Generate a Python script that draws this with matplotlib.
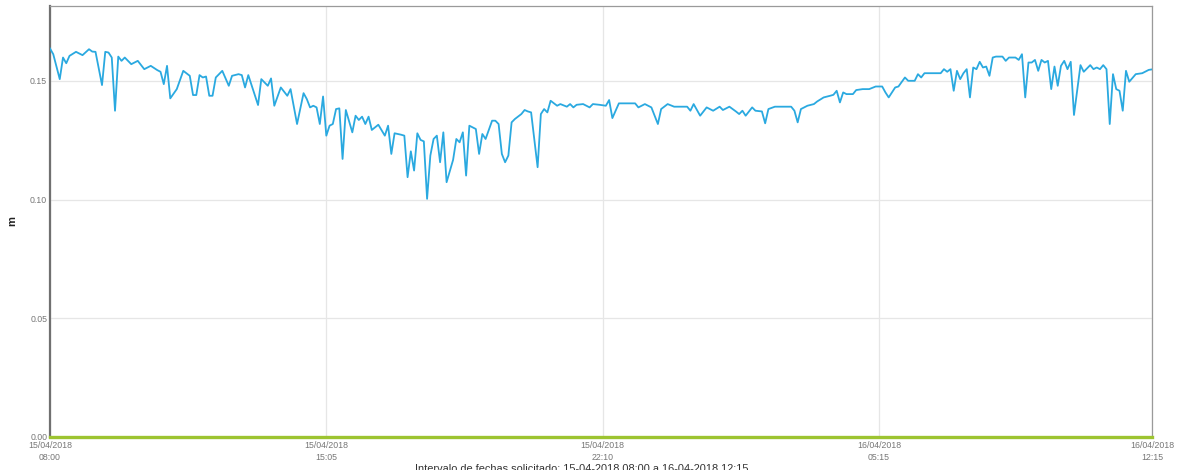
import datetime as dt

from matplotlib import pyplot as plt
import matplotlib.dates as mdates

# minutes after 15/04/2018 08:00 and level (m)
minutes = [
    0, 5, 15, 20, 25, 30, 40, 50, 60, 65, 70, 80, 85, 90, 95, 100, 105, 110, 115, 125,
    135, 145, 155, 165, 170, 175, 180, 185, 195, 205, 215, 220, 225, 230, 235, 240, 245, 250, 255, 265,
    275, 280, 290, 295, 300, 305, 320, 325, 335, 340, 345, 355, 365, 370, 380, 390, 395, 400, 405, 410,
    415, 420, 425, 430, 435, 440, 445, 450, 455, 465, 470, 475, 480, 485, 490, 495, 505, 515, 520, 525,
    530, 540, 545, 550, 555, 560, 565, 570, 575, 580, 585, 590, 595, 600, 605, 610, 620, 625, 630, 635,
    640, 645, 655, 660, 665, 670, 680, 685, 690, 695, 700, 705, 710, 715, 725, 730, 735, 740, 750, 755,
    760, 765, 770, 780, 785, 795, 800, 805, 810, 820, 830, 835, 845, 855, 860, 865, 875, 900, 905, 915,
    925, 935, 940, 950, 960, 980, 985, 990, 1000, 1010, 1020, 1030, 1035, 1045, 1055, 1060, 1065, 1070, 1080, 1085,
    1095, 1100, 1105, 1115, 1140, 1145, 1150, 1155, 1165, 1175, 1180, 1190, 1200, 1205, 1210, 1215, 1220, 1225, 1235, 1240,
    1250, 1260, 1270, 1280, 1285, 1290, 1300, 1305, 1315, 1320, 1330, 1335, 1340, 1345, 1370, 1375, 1380, 1385, 1390, 1395,
    1400, 1405, 1410, 1415, 1420, 1425, 1430, 1435, 1440, 1445, 1450, 1455, 1465, 1470, 1475, 1485, 1490, 1495, 1500, 1505,
    1510, 1515, 1520, 1525, 1530, 1535, 1540, 1545, 1550, 1555, 1560, 1565, 1570, 1575, 1585, 1590, 1595, 1600, 1605, 1610,
    1615, 1620, 1625, 1630, 1635, 1640, 1645, 1650, 1655, 1660, 1670, 1680, 1690, 1695,
]
level = [
    0.1636, 0.1612, 0.1507, 0.1598, 0.1574, 0.1605, 0.1622, 0.1608, 0.1633, 0.1623, 0.1622, 0.1482, 0.1622, 0.1619, 0.1598, 0.1374, 0.1602, 0.1584, 0.1598, 0.1570,
    0.1584, 0.1549, 0.1563, 0.1545, 0.1538, 0.1486, 0.1563, 0.1426, 0.1465, 0.1542, 0.1521, 0.1440, 0.1440, 0.1524, 0.1514, 0.1518, 0.1437, 0.1437, 0.1514, 0.1542,
    0.1479, 0.1521, 0.1528, 0.1524, 0.1472, 0.1524, 0.1398, 0.1507, 0.1479, 0.1510, 0.1395, 0.1472, 0.1437, 0.1465, 0.1318, 0.1448, 0.1423, 0.1388, 0.1395, 0.1388,
    0.1318, 0.1434, 0.1269, 0.1311, 0.1318, 0.1381, 0.1384, 0.1171, 0.1377, 0.1283, 0.1353, 0.1335, 0.1349, 0.1318, 0.1349, 0.1293, 0.1315, 0.1269, 0.1311, 0.1192,
    0.1279, 0.1273, 0.1269, 0.1094, 0.1203, 0.1122, 0.1279, 0.1251, 0.1245, 0.1003, 0.1185, 0.1255, 0.1269, 0.1157, 0.1283, 0.1073, 0.1167, 0.1255, 0.1241, 0.1283,
    0.1101, 0.1311, 0.1297, 0.1192, 0.1276, 0.1255, 0.1332, 0.1332, 0.1318, 0.1192, 0.1157, 0.1185, 0.1325, 0.1339, 0.1360, 0.1377, 0.1371, 0.1367, 0.1136, 0.1360,
    0.1381, 0.1367, 0.1416, 0.1395, 0.1402, 0.1391, 0.1402, 0.1388, 0.1399, 0.1402, 0.1388, 0.1402, 0.1399, 0.1395, 0.1419, 0.1343, 0.1405, 0.1405, 0.1388, 0.1402,
    0.1388, 0.1318, 0.1381, 0.1402, 0.1391, 0.1391, 0.1374, 0.1402, 0.1353, 0.1388, 0.1374, 0.1391, 0.1377, 0.1391, 0.1371, 0.1360, 0.1374, 0.1353, 0.1388, 0.1374,
    0.1371, 0.1321, 0.1381, 0.1391, 0.1391, 0.1374, 0.1325, 0.1381, 0.1395, 0.1402, 0.1413, 0.1430, 0.1437, 0.1441, 0.1458, 0.1409, 0.1451, 0.1444, 0.1444, 0.1461,
    0.1465, 0.1465, 0.1476, 0.1476, 0.1451, 0.1430, 0.1472, 0.1476, 0.1514, 0.1500, 0.1500, 0.1528, 0.1514, 0.1532, 0.1532, 0.1549, 0.1538, 0.1549, 0.1458, 0.1542,
    0.1507, 0.1532, 0.1549, 0.1430, 0.1556, 0.1549, 0.1580, 0.1556, 0.1560, 0.1521, 0.1598, 0.1602, 0.1602, 0.1584, 0.1598, 0.1598, 0.1588, 0.1612, 0.1430, 0.1577,
    0.1577, 0.1588, 0.1542, 0.1588, 0.1577, 0.1584, 0.1465, 0.1560, 0.1479, 0.1563, 0.1584, 0.1549, 0.1580, 0.1356, 0.1566, 0.1538, 0.1552, 0.1566, 0.1549, 0.1556,
    0.1549, 0.1566, 0.1549, 0.1318, 0.1528, 0.1465, 0.1458, 0.1374, 0.1542, 0.1496, 0.1528, 0.1532, 0.1546, 0.1548,
]

start = dt.datetime(2018, 4, 15, 8, 0)
tick_minutes = [0, 425, 850, 1275, 1695]
y_ticks = [0.00, 0.05, 0.10, 0.15]
footer = "Intervalo de fechas solicitado: 15-04-2018 08:00 a 16-04-2018 12:15"

times = [start + dt.timedelta(minutes=m) for m in minutes]
tick_times = [start + dt.timedelta(minutes=m) for m in tick_minutes]

plt.rcParams['font.family'] = ['Liberation Sans', 'DejaVu Sans']

fig = plt.figure(figsize=(11.81, 4.70), dpi=100)
ax = fig.add_axes([50 / 1181, 1 - 437 / 470, 1102 / 1181, 431 / 470])

ax.plot(times, level, color='#2AA9E0', linewidth=1.3, zorder=3)
ax.axhline(0, color='#9DC431', linewidth=2.4, zorder=4, clip_on=False)

ax.set_xlim(tick_times[0], tick_times[-1])
ax.set_ylim(0, 0.1815)
ax.set_xticks(tick_times)
ax.xaxis.set_major_formatter(mdates.DateFormatter('%d/%m/%Y\n%H:%M'))
ax.set_yticks(y_ticks)
ax.set_yticklabels(['%.2f' % v for v in y_ticks])

ax.grid(True, color='#e6e6e6', linewidth=0.9)
ax.set_axisbelow(True)
ax.tick_params(length=0, labelsize=6.3, colors='#777777')
ax.tick_params(axis='x', pad=3)
ax.tick_params(axis='y', pad=2)
for lbl in ax.get_xticklabels():
    lbl.set_linespacing(1.45)

ax.spines['left'].set_color('#707070')
ax.spines['left'].set_linewidth(1.6)
for side in ['top', 'right']:
    ax.spines[side].set_color('#9a9a9a')
    ax.spines[side].set_linewidth(0.9)
ax.spines['bottom'].set_visible(False)

ax.set_ylabel('m', fontsize=8, fontweight='bold', color='#222222', va='center')
ax.yaxis.set_label_coords(-0.034, 0.5)

fig.text(582 / 1181, 0.002, footer, ha='center', va='center', fontsize=7.9, color='#333333')

fig.savefig('out.png', dpi=100)
